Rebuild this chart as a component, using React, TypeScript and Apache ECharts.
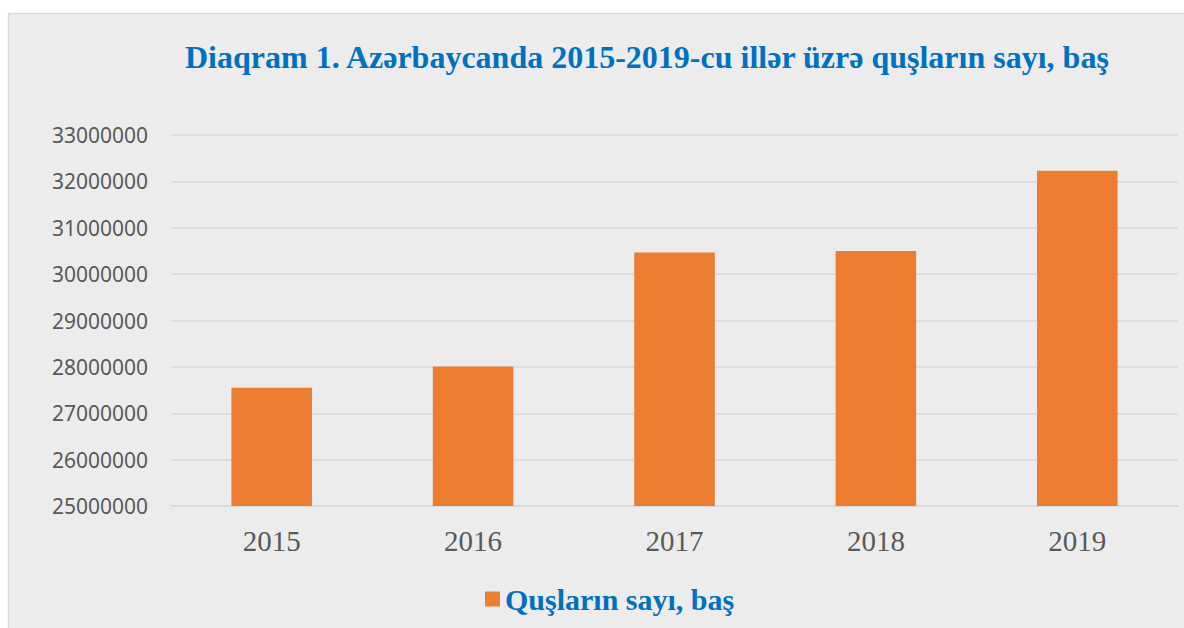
import React, { useEffect, useRef } from "react";
import * as echarts from "echarts";

const categories = ["2015", "2016", "2017", "2018", "2019"];
const birdCounts = [27550000, 28010000, 30467000, 30496000, 32230000];
const seriesName = "Quşların sayı, baş";
const titleText = "Diaqram 1. Azərbaycanda 2015-2019-cu illər üzrə quşların sayı, baş";

export default function App() {
  const ref = useRef<HTMLDivElement>(null);
  useEffect(() => {
    if (!ref.current) return;
    const chart = echarts.init(ref.current, null, { renderer: "svg" });
    chart.setOption({
      animation: false,
      backgroundColor: "#ffffff",
      graphic: [
        {
          type: "rect",
          z: -10,
          silent: true,
          shape: { x: 8.5, y: 13.5, width: 1200, height: 700 },
          style: { fill: "#ececec", stroke: "#d9d9d9", lineWidth: 1.5 },
        },
      ],
      title: {
        text: titleText,
        left: 185,
        top: 38,
        padding: 0,
        textStyle: {
          fontFamily: "Liberation Serif",
          fontWeight: "bold",
          fontSize: 32,
          lineHeight: 38,
          color: "#0070c0",
        },
      },
      legend: {
        data: [seriesName],
        left: 485,
        top: 584,
        padding: 0,
        itemWidth: 15,
        itemHeight: 15,
        icon: "rect",
        textStyle: {
          fontFamily: "Liberation Serif",
          fontWeight: "bold",
          fontSize: 30,
          lineHeight: 30,
          color: "#0070c0",
        },
      },
      grid: { left: 171, right: 6, top: 135, bottom: 122, containLabel: false },
      xAxis: {
        type: "category",
        data: categories,
        axisLine: { show: true, lineStyle: { color: "#d9d9d9", width: 1.5 } },
        axisTick: { show: false },
        axisLabel: {
          fontFamily: "Liberation Serif",
          fontSize: 29,
          color: "#595959",
          margin: 20,
        },
      },
      yAxis: {
        type: "value",
        min: 25000000,
        max: 33000000,
        interval: 1000000,
        axisLine: { show: false },
        axisTick: { show: false },
        splitLine: { lineStyle: { color: "#d9d9d9", width: 1.5 } },
        axisLabel: {
          fontFamily: "Noto Sans",
          fontSize: 21,
          color: "#595959",
          margin: 23,
          formatter: (v: number) => String(v),
        },
      },
      series: [
        {
          name: seriesName,
          type: "bar",
          data: birdCounts,
          barWidth: "40%",
          itemStyle: { color: "#ed7d31" },
        },
      ],
    });
    return () => chart.dispose();
  }, []);
  return (
    <div
      ref={ref}
      style={{ position: "absolute", left: 0, top: 0, width: 1184, height: 628 }}
    />
  );
}
